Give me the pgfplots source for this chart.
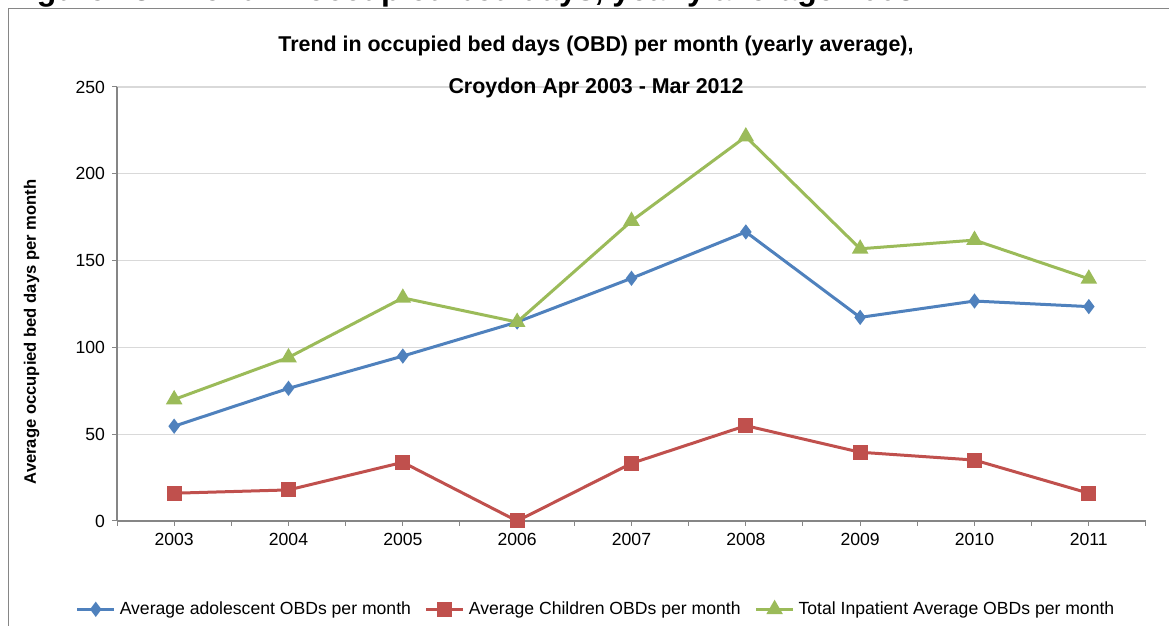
\documentclass[border=0pt]{standalone}
\usepackage{fontspec}
\setmainfont{Liberation Sans}
\usepackage{pgfplots}
\pgfplotsset{compat=1.18}
\definecolor{cblue}{HTML}{4F81BD}
\definecolor{cred}{HTML}{C0504D}
\definecolor{cgreen}{HTML}{9BBB59}
\definecolor{gridgray}{HTML}{D9D9D9}
\definecolor{axisgray}{HTML}{868686}
\begin{document}
\begin{tikzpicture}
\path[use as bounding box, clip] (0,0) rectangle (584.5pt,313pt);
\draw[axisgray, line width=0.6pt] (4.15pt,-5pt) -- (4.15pt,308.85pt) -- (600pt,308.85pt);
\node[anchor=base west, inner sep=0pt, font=\bfseries\fontsize{16}{19}\selectfont] at (4pt,312.5pt) {Figure 13: Trend in occupied bed days, yearly average 2003-12};
\begin{axis}[
  at={(58.5pt,52.5pt)}, anchor=south west,
  scale only axis, width=514.5pt, height=217pt,
  xmin=2002.5, xmax=2011.5, ymin=0, ymax=250,
  axis x line*=bottom, axis y line*=left,
  axis line style={axisgray, line width=0.6pt, -},
  ytick={0,50,...,250},
  xtick={2003,2004,2005,2006,2007,2008,2009,2010,2011},
  minor xtick={2002.5,2003.5,2004.5,2005.5,2006.5,2007.5,2008.5,2009.5,2010.5,2011.5},
  ymajorgrids, grid style={gridgray, line width=0.6pt},
  tick align=outside, major tick length=2.5pt, minor tick length=2.5pt,
  tick style={axisgray, line width=0.5pt},
  /pgf/number format/assume math mode=true,
  /pgf/number format/1000 sep={},
  ticklabel style={font=\fontsize{8.8}{10}\selectfont},
  legend columns=3,
  legend style={at={(0.4665,-0.2035)}, anchor=center, draw=none, fill=none,
    font=\fontsize{8.8}{10}\selectfont, inner sep=0pt,
    /tikz/every even column/.append style={column sep=5pt}},
  legend image code/.code={\draw[mark repeat=2,mark phase=2] plot coordinates {(0pt,0pt) (9.25pt,0pt) (18.5pt,0pt)};},
]
\addplot[cblue, line width=1.5pt, mark=diamond*, mark size=2.6pt, mark options={solid}] coordinates {
(2003,54.6) (2004,76.4) (2005,95.0) (2006,114.6) (2007,139.8) (2008,166.5) (2009,117.3) (2010,126.7) (2011,123.5)};
\addlegendentry{Average adolescent OBDs per month}
\addplot[cred, line width=1.5pt, mark=square*, mark size=3pt, mark options={solid}] coordinates {
(2003,16.0) (2004,17.9) (2005,33.8) (2006,0) (2007,33.2) (2008,54.9) (2009,39.6) (2010,35.1) (2011,16.0)};
\addlegendentry{Average Children OBDs per month}
\addplot[cgreen, line width=1.5pt, mark=triangle*, mark size=3.3pt, mark options={solid}] coordinates {
(2003,70.0) (2004,94.2) (2005,128.5) (2006,114.6) (2007,172.8) (2008,221.4) (2009,156.8) (2010,161.8) (2011,139.5)};
\addlegendentry{Total Inpatient Average OBDs per month}
\end{axis}
\node[anchor=base, inner sep=0pt, font=\bfseries\fontsize{10.7}{12}\selectfont] at (298pt,287pt) {Trend in occupied bed days (OBD) per month (yearly average),};
\node[anchor=base, inner sep=0pt, font=\bfseries\fontsize{10.7}{12}\selectfont] at (298pt,266pt) {Croydon Apr 2003 - Mar 2012};
\node[rotate=90, inner sep=0pt, font=\bfseries\fontsize{8.3}{10}\selectfont] at (15.8pt,147pt) {Average occupied bed days per month};
\end{tikzpicture}
\end{document}
